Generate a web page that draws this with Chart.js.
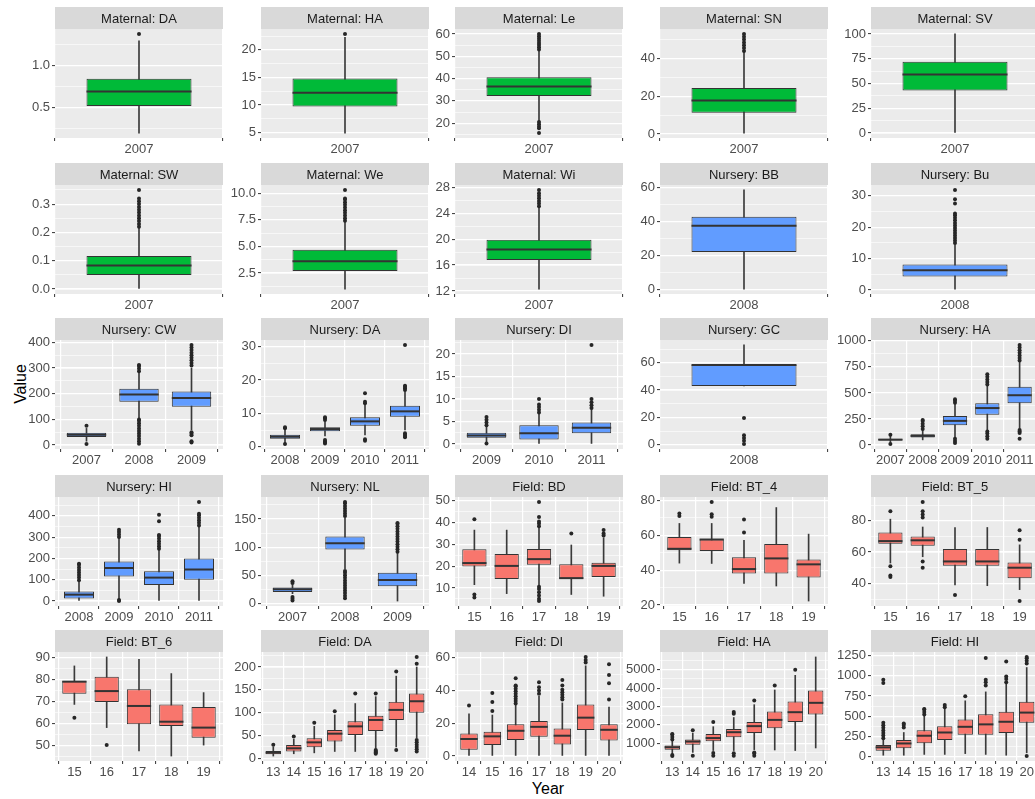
<!DOCTYPE html>
<html>
<head>
<meta charset="utf-8">
<script src="https://cdn.jsdelivr.net/npm/chart.js@4.4.1/dist/chart.umd.min.js"></script>
<style>
  html, body { margin: 0; padding: 0; background: #fff; }
  body { width: 1035px; height: 799px; overflow: hidden; position: relative; font-family: "Liberation Sans", Arial, sans-serif; }
  canvas { position: absolute; }
  .axis-title { position: absolute; font-size: 16px; color: #000; white-space: nowrap; transform: translate(-50%, -50%); }
  #ytitle { transform: translate(-50%, -50%) rotate(-90deg); }
</style>
</head>
<body>
<div class="axis-title" id="ytitle" style="left:21px; top:384px;">Value</div>
<div class="axis-title" id="xtitle" style="left:548px; top:789px;">Year</div>
<script>
// facet titles, in reading order
const panelTitles = ['Maternal: DA', 'Maternal: HA', 'Maternal: Le', 'Maternal: SN', 'Maternal: SV',
  'Maternal: SW', 'Maternal: We', 'Maternal: Wi', 'Nursery: BB', 'Nursery: Bu',
  'Nursery: CW', 'Nursery: DA', 'Nursery: DI', 'Nursery: GC', 'Nursery: HA',
  'Nursery: HI', 'Nursery: NL', 'Field: BD', 'Field: BT_4', 'Field: BT_5',
  'Field: BT_6', 'Field: DA', 'Field: DI', 'Field: HA', 'Field: HI'];

const panelYears = [
  ['2007'], ['2007'], ['2007'], ['2007'], ['2007'],
  ['2007'], ['2007'], ['2007'], ['2008'], ['2008'],
  ['2007', '2008', '2009'], ['2008', '2009', '2010', '2011'], ['2009', '2010', '2011'], ['2008'], ['2007', '2008', '2009', '2010', '2011'],
  ['2008', '2009', '2010', '2011'], ['2007', '2008', '2009'], ['15', '16', '17', '18', '19'], ['15', '16', '17', '18', '19'], ['15', '16', '17', '18', '19'],
  ['15', '16', '17', '18', '19'], ['13', '14', '15', '16', '17', '18', '19', '20'], ['14', '15', '16', '17', '18', '19', '20'],
  ['13', '14', '15', '16', '17', '18', '19', '20'], ['13', '14', '15', '16', '17', '18', '19', '20']
];

// box statistics, one array per panel, one value per year
const whiskerLow = [
  [0.2], [4.9], [21], [0.5], [0],
  [0], [1.0], [12.3], [0.5], [0.3],
  [15, 105, 60], [1.2, 3.2, 3.5, 5.0], [0.3, 0, 0], [43], [25, 50, 70, 135, 160],
  [0, 10, 0, 0], [18, 62, 5], [11.5, 7.4, 11.5, 7, 6.2], [44, 43.8, 32.4, 30.9, 22.3], [53, 57, 39, 38.5, 36],
  [68.6, 58, 47.3, 45, 50], [5, 10, 12, 15, 15, 22, 25, 45], [0, 0, 0, 0, 0, 0, 0],
  [420, 500, 600, 600, 650, 630, 600, 740], [20, 20, 30, 30, 40, 30, 20, 50]
];
const boxLow = [
  [0.52], [9.7], [32.2], [11.3], [43],
  [0.05], [2.69], [16.8], [22.3], [4.3],
  [31, 169, 149], [2.4, 4.6, 6.3, 9.0], [1.4, 1.0, 2.4], [43], [45, 72, 190, 290, 400],
  [12, 115, 75, 100], [21, 96, 31], [19.8, 14.1, 20.6, 14.1, 15], [51.4, 50.9, 38.1, 38.1, 35.8], [65.3, 64, 51.2, 51.2, 43.3],
  [73.5, 69.7, 59.5, 58.7, 53.4], [9, 15, 24, 37, 51, 60, 84, 100], [3.8, 6.8, 9.8, 11.8, 7, 15.8, 9.4],
  [640, 920, 1110, 1330, 1550, 1820, 2150, 2560], [76, 105, 168, 209, 272, 272, 293, 419]
];
const boxMid = [
  [0.69], [12.2], [36.4], [17.8], [59],
  [0.083], [3.6], [18.4], [37.7], [6.3],
  [40, 197, 183], [3.0, 5.3, 7.6, 10.6], [1.9, 2.4, 3.6], [58.3], [52, 88, 232, 355, 478],
  [30, 155, 110, 148], [26, 107, 42], [21.4, 20.1, 23.2, 14.5, 20.1], [52.2, 57.5, 40.6, 46.7, 43.3], [67, 67.5, 54, 54, 50],
  [79, 74.7, 67.9, 60.7, 58], [12.5, 22, 35, 54, 70, 84, 106, 125], [10.4, 12, 15.4, 17.8, 12.4, 23.4, 16],
  [780, 1090, 1280, 1600, 1930, 2270, 2690, 3200], [117, 165, 260, 300, 370, 400, 432, 545]
];
const boxHigh = [
  [0.84], [14.8], [40.6], [24.4], [72],
  [0.117], [4.69], [19.9], [42.9], [8.1],
  [48, 219, 209], [3.6, 5.8, 8.8, 12.3], [2.5, 4.2, 4.8], [58.3], [60, 105, 280, 400, 560],
  [45, 185, 140, 200], [29, 119, 55], [27.7, 25.6, 27.9, 20.9, 21.6], [59, 57.7, 47.3, 54.9, 46.1], [72.5, 70, 61.9, 61.9, 53.3],
  [79.3, 81.3, 75.5, 68.6, 67.4], [16, 29, 44, 62, 81, 93, 124, 142], [13.8, 14.8, 19.4, 21.4, 16.8, 31.4, 19.4],
  [870, 1200, 1500, 1780, 2150, 2730, 3270, 3870], [146, 209, 327, 378, 461, 524, 554, 680]
];
const whiskerHigh = [
  [1.29], [22.3], [52.5], [43.5], [100],
  [0.215], [7.3], [24.8], [58.7], [14.5],
  [65, 285, 300], [5.0, 7.5, 12.5, 16.5], [4.0, 6.8, 7.8], [73], [90, 150, 400, 570, 800],
  [95, 295, 240, 350], [34, 152, 90], [36.5, 36.5, 37.3, 29.7, 33], [66.7, 66.7, 57, 75.8, 60.6], [81, 76, 75.7, 75.7, 64.6],
  [86.2, 90.3, 89.2, 82.7, 74], [25, 42, 70, 95, 120, 135, 180, 200], [25.8, 25, 31.4, 36.4, 32.4, 55, 29.8],
  [1150, 1550, 1900, 2400, 3100, 3900, 4700, 5700], [215, 300, 500, 600, 690, 800, 900, 1100]
];
const outliers = [
  [[1.37]], [[22.9]],
  [[53, 54, 55, 56, 57, 58, 59, 60, 20.5, 19.5, 18.5, 17.8, 15.6]],
  [[44, 45.5, 47, 48.5, 50, 51.5, 53]],
  [[]],
  [[0.22, 0.23, 0.24, 0.25, 0.26, 0.27, 0.28, 0.29, 0.30, 0.31, 0.32, 0.35]],
  [[7.4, 7.65, 7.9, 8.15, 8.4, 8.65, 8.9, 9.15, 9.4, 9.5, 10.3]],
  [[25.1, 25.5, 25.9, 26.3, 26.7, 27.1, 27.6]],
  [[]],
  [[15, 15.8, 16.6, 17.4, 18.2, 19, 19.8, 20.6, 21.4, 22.2, 23, 23.8, 24.4, 27.6, 28.9, 31.9]],
  [[75, 4], [288, 298, 308, 312, 5, 15, 25, 35, 45, 55, 65, 75, 85, 95, 100],
    [310, 320, 330, 340, 350, 360, 370, 380, 390, 38, 44, 50, 10, 15]],
  [[5.5, 5.8, 0.8], [8.0, 8.5, 8.8, 1.0, 1.3, 1.6, 2.0], [13.0, 13.5, 16.0, 1.8, 2.2],
    [17.0, 17.5, 18.0, 18.3, 30.5, 2.8, 3.2, 3.6, 4.0]],
  [[4.2, 4.8, 5.4, 6.0, 0.1], [7, 7.6, 8.2, 8.8, 10], [8, 8.6, 9.3, 10, 22]],
  [[19.6, 7, 5, 3, 0.5]],
  [[100, 10], [155, 180, 205, 230, 240], [405, 425, 440, 20, 40, 60],
    [580, 605, 630, 655, 680, 60, 85, 110, 130], [810, 835, 860, 885, 910, 935, 960, 60, 115, 130, 145]],
  [[98, 110, 122, 134, 146, 158, 170, 175], [300, 312, 324, 335, 0, 5],
    [245, 257, 269, 281, 293, 305, 310, 375, 405], [355, 367, 379, 391, 403, 410, 465]],
  [[40, 37, 12, 9, 6],
    [155, 159.5, 164, 168.5, 173, 177.5, 180, 10, 14.5, 19, 23.5, 28, 32.5, 37, 41.5, 46, 50.5, 55, 58],
    [92, 96.5, 101, 105.5, 110, 114.5, 119, 123.5, 128, 132.5, 137, 141.5, 143]],
  [[41.5, 7, 5.6], [], [38.3, 39.5, 40.5, 42.5, 49.4, 10.5, 9.5, 8, 6.5, 5, 4], [35], [34, 35, 36.5]],
  [[71, 72.4], [70.5, 72, 79], [61.5, 69], [], []],
  [[86, 51, 45, 44], [82, 84, 86, 92, 54, 50], [32.6], [], [67.8, 74, 28.7]],
  [[62.5], [50], [], [], []],
  [[30], [48], [78], [103], [142], [142, 10, 12, 14, 16, 18], [190, 18], [207, 222, 15, 20, 25, 30, 35, 40]],
  [[30.8], [27.4, 33, 38.4], [32, 33.5, 35, 36.5, 38, 39.5, 41, 42.5, 43, 47.4], [38, 40, 42, 45],
    [34.4, 35.9, 37.4, 38.9, 40.4, 43, 46.4], [57, 58.5, 60.4], [34.4, 44.4, 49.4, 55.9]],
  [[1200, 1340, 1480, 1500, 300, 360], [1700, 320], [2150, 320, 460], [2600, 2700, 320, 450],
    [3330, 320, 440, 500], [4150], [5000], []],
  [[230, 262, 294, 326, 358, 390, 420, 910, 950], [360, 392, 410], [520, 552, 584, 590], [610, 640],
    [747], [880, 920, 950, 1217], [920, 960, 990, 1175], [1150, 1182, 1214, 1230, 10]]
];

// major tick spacing of each panel's value axis (minor lines at half of it)
const yStep = [0.5, 5, 10, 20, 25, 0.1, 2.5, 4, 20, 10, 100, 10, 5, 20, 250, 100, 50, 10, 20, 20, 10, 50, 20, 1000, 250];

const groupColours = { Maternal: '#00BA38', Nursery: '#619CFF', Field: '#F8766D' };

// page layout of the 5 x 5 facet grid
const colLeft = [55, 261, 455, 660, 871];
const rowTop = [7, 163, 318, 475, 630];
const PANEL_W = 168, PLOT_H = 109, STRIP_H = 22;
const AXIS_W = 50, XAXIS_H = 22, PAD_R = 20;

Chart.defaults.font.family = '"Liberation Sans", Arial, sans-serif';
Chart.defaults.font.size = 13;
Chart.defaults.color = '#4D4D4D';

// multiples of step inside [lo, hi]
function stepTicks(lo, hi, step) {
  const ticks = [];
  for (let k = Math.ceil(lo / step - 1e-9); k * step <= hi + 1e-9; k++) {
    ticks.push({ value: Number((k * step).toFixed(6)) });
  }
  return ticks;
}

// grey panel + facet strip, ggplot style
const facetPlugin = {
  id: 'facet',
  beforeDraw(chart, args, opts) {
    const { ctx, chartArea: a } = chart;
    ctx.save();
    ctx.fillStyle = '#EBEBEB';
    ctx.fillRect(a.left, a.top, a.right - a.left, a.bottom - a.top);
    ctx.fillStyle = '#D9D9D9';
    ctx.fillRect(a.left, a.top - STRIP_H, a.right - a.left, STRIP_H);
    ctx.fillStyle = '#1A1A1A';
    ctx.font = '13px "Liberation Sans", Arial, sans-serif';
    ctx.textAlign = 'center';
    ctx.textBaseline = 'middle';
    ctx.fillText(opts.title, (a.left + a.right) / 2, a.top - STRIP_H / 2 + 1);
    ctx.restore();
  }
};

panelTitles.forEach((title, p) => {
  const years = panelYears[p];
  const n = years.length;
  const idx = years.map((_, i) => i);
  const step = yStep[p];
  const decimals = Number.isInteger(step) ? 0 : 1;

  // ggplot default: 5% expansion of the data range
  const all = whiskerLow[p].concat(whiskerHigh[p], ...outliers[p]);
  const dmin = Math.min(...all), dmax = Math.max(...all);
  const pad = (dmax - dmin) * 0.05;
  const yLo = dmin - pad, yHi = dmax + pad;

  const canvas = document.createElement('canvas');
  const col = p % 5, row = Math.floor(p / 5);
  canvas.width = AXIS_W + PANEL_W + PAD_R;
  canvas.height = STRIP_H + PLOT_H + XAXIS_H;
  canvas.style.left = (colLeft[col] - AXIS_W) + 'px';
  canvas.style.top = rowTop[row] + 'px';
  document.body.appendChild(canvas);

  const colour = groupColours[title.split(':')[0]];
  const outlierPoints = [];
  idx.forEach(i => outliers[p][i].forEach(v => outlierPoints.push({ x: i, y: v })));

  new Chart(canvas.getContext('2d'), {
    type: 'bar',
    data: {
      datasets: [
        {
          type: 'scatter',
          yAxisID: 'y',
          data: outlierPoints,
          pointRadius: 2,
          pointBackgroundColor: '#262626',
          pointBorderWidth: 0,
          order: 1
        },
        {
          // median line, as wide as the box
          type: 'scatter',
          yAxisID: 'y',
          data: idx.map(i => ({ x: i, y: boxMid[p][i] })),
          pointStyle: 'line',
          pointRadius: ctx => {
            const x = ctx.chart.scales.x;
            return x.getPixelForValue(0.375) - x.getPixelForValue(0);
          },
          pointBorderColor: '#333333',
          pointBorderWidth: 2,
          order: 2
        },
        {
          yAxisID: 'y',
          data: idx.map(i => ({ x: i, y: [boxLow[p][i], boxHigh[p][i]] })),
          backgroundColor: colour,
          borderColor: '#333333',
          borderWidth: 1,
          borderSkipped: false,
          grouped: false,
          categoryPercentage: 1,
          barPercentage: n === 1 ? 0.75 / 1.2 : 0.75,
          order: 3
        },
        {
          yAxisID: 'y',
          data: idx.map(i => ({ x: i, y: [whiskerLow[p][i], whiskerHigh[p][i]] })),
          backgroundColor: '#3a3a3a',
          barThickness: 1,
          grouped: false,
          order: 4
        }
      ]
    },
    options: {
      responsive: false,
      animation: false,
      events: [],
      layout: { padding: { top: STRIP_H, right: PAD_R, left: 0, bottom: 0 } },
      plugins: {
        legend: { display: false },
        tooltip: { enabled: false },
        facet: { title: title }
      },
      scales: {
        x: {
          type: 'linear',
          min: -0.6,
          max: n - 0.4,
          offset: false,
          border: { display: false },
          grid: { color: '#FFFFFF', lineWidth: 1.2, tickColor: '#333333', tickLength: 3, tickWidth: 1 },
          ticks: {
            autoSkip: false, maxRotation: 0, padding: 1,
            color: '#4D4D4D',
            callback: v => years[v]
          },
          afterBuildTicks: s => { s.ticks = stepTicks(0, n - 1, 1); },
          afterFit: s => { s.height = XAXIS_H; }
        },
        y: {
          type: 'linear',
          position: 'left',
          min: yLo,
          max: yHi,
          border: { display: false },
          grid: { color: '#FFFFFF', lineWidth: 1.2, tickColor: '#333333', tickLength: 3, tickWidth: 1 },
          ticks: {
            autoSkip: false, padding: 2,
            color: '#4D4D4D',
            callback: v => v.toFixed(decimals)
          },
          afterBuildTicks: s => { s.ticks = stepTicks(yLo, yHi, step); },
          afterFit: s => { s.width = AXIS_W; }
        },
        yMinor: {
          type: 'linear',
          position: 'left',
          min: yLo,
          max: yHi,
          border: { display: false },
          grid: { color: '#FFFFFF', lineWidth: 0.6, drawTicks: false, tickLength: 0 },
          ticks: { display: false, autoSkip: false },
          afterBuildTicks: s => { s.ticks = stepTicks(yLo, yHi, step / 2); },
          afterFit: s => { s.width = 0; }
        }
      }
    },
    plugins: [facetPlugin]
  });
});
</script>
</body>
</html>
